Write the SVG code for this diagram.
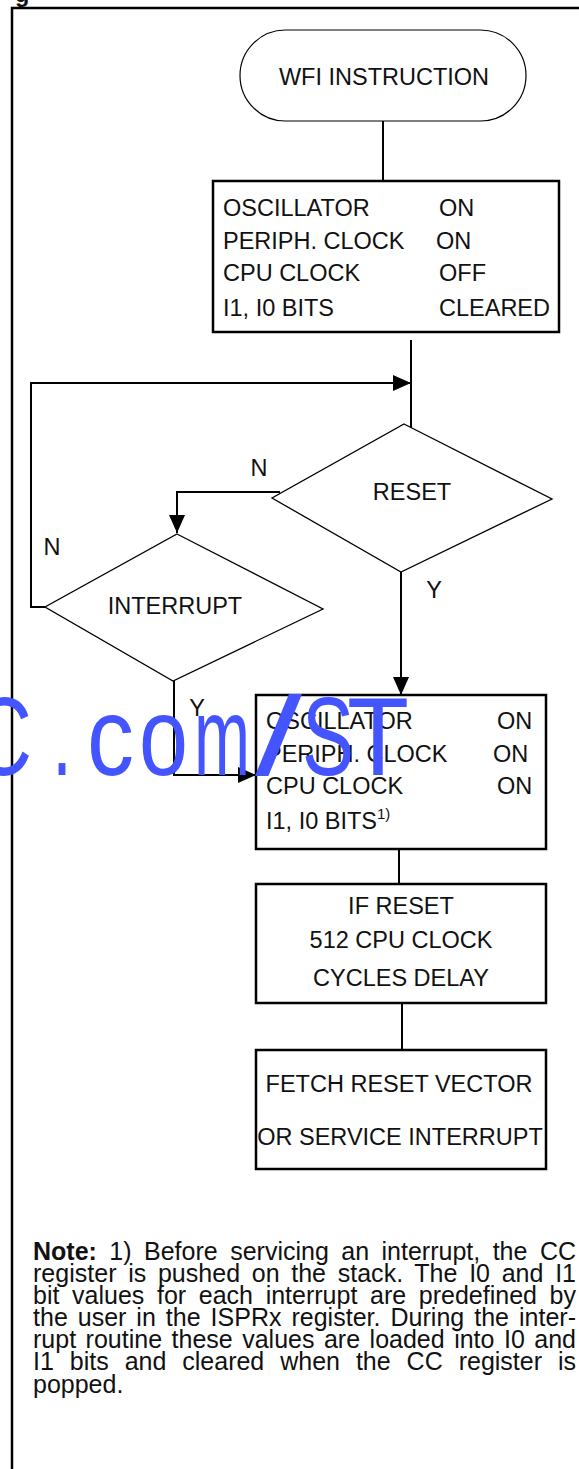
<svg xmlns="http://www.w3.org/2000/svg" width="579" height="1469" viewBox="0 0 579 1469">
<defs>
<style>
.t{font-family:"Liberation Sans",Arial,Helvetica,sans-serif;font-size:23.5px;fill:#111}
.c{text-anchor:middle}
.box{fill:#fff;stroke:#000;stroke-width:2.5}
.dia{fill:#fff;stroke:#000;stroke-width:1.3}
.ln{fill:none;stroke:#000;stroke-width:2}
.note{font-family:"Liberation Sans",Arial,Helvetica,sans-serif;font-size:25px;fill:#111}
.wm{font-family:"Liberation Sans",Arial,sans-serif;font-size:112px;fill:#4455ff}
</style>
<marker id="arr" viewBox="0 0 18 18" markerWidth="18" markerHeight="18" refX="18" refY="9" orient="auto" markerUnits="userSpaceOnUse">
<path d="M0,1 L18,9 L0,17 z" fill="#000"/>
</marker>
</defs>
<rect width="579" height="1469" fill="#fff"/>
<text class="t" x="15" y="2" font-weight="bold">g</text>
<path d="M12,1469 V8 H579" fill="none" stroke="#000" stroke-width="2.5"/>

<g id="connectors">
<path class="ln" d="M383,121 V181"/>
<path class="ln" d="M411,340 V428"/>
<path class="ln" d="M45,607 H31 V383 H411" marker-end="url(#arr)"/>
<path class="ln" d="M280,492 H177 V533" marker-end="url(#arr)"/>
<path class="ln" d="M401,572 V695" marker-end="url(#arr)"/>
<path class="ln" d="M174,681 V775 H256" marker-end="url(#arr)"/>
<path class="ln" d="M399,849 V884"/>
<path class="ln" d="M402,1003 V1050"/>
<text class="t c" x="259" y="476">N</text>
<text class="t c" x="52" y="555">N</text>
<text class="t c" x="434" y="598">Y</text>
<text class="t c" x="197" y="716">Y</text>
</g>

<g id="wfi">
<rect x="240" y="30" width="286" height="91" rx="45.5" fill="#fff" stroke="#000" stroke-width="1.2"/>
<text class="t c" x="384" y="85">WFI INSTRUCTION</text>
</g>

<g id="state1">
<rect class="box" x="213" y="181" width="346" height="151"/>
<text class="t" x="223" y="216">OSCILLATOR</text><text class="t" x="439" y="216">ON</text>
<text class="t" x="223" y="249">PERIPH. CLOCK</text><text class="t" x="436" y="249">ON</text>
<text class="t" x="223" y="281">CPU CLOCK</text><text class="t" x="439" y="281">OFF</text>
<text class="t" x="223" y="316">I1, I0 BITS</text><text class="t" x="439" y="316">CLEARED</text>
</g>

<g id="reset">
<polygon class="dia" points="404,424 552,499 401,572 272,498"/>
<text class="t c" x="412" y="500">RESET</text>
</g>

<g id="interrupt">
<polygon class="dia" points="177,534 323,609 173,681 45,607"/>
<text class="t c" x="175" y="614">INTERRUPT</text>
</g>

<g id="state2">
<rect class="box" x="256" y="695" width="290" height="154"/>
<text class="t" x="266" y="729">OSCILLATOR</text><text class="t" x="497" y="729">ON</text>
<text class="t" x="266" y="762">PERIPH. CLOCK</text><text class="t" x="493" y="762">ON</text>
<text class="t" x="266" y="794">CPU CLOCK</text><text class="t" x="497" y="794">ON</text>
<text class="t" x="266" y="829">I1, I0 BITS<tspan font-size="15" dy="-10">1)</tspan></text>
</g>

<g id="delay">
<rect class="box" x="256" y="884" width="290" height="119"/>
<text class="t c" x="401" y="914">IF RESET</text>
<text class="t c" x="401" y="948">512 CPU CLOCK</text>
<text class="t c" x="401" y="986">CYCLES DELAY</text>
</g>

<g id="fetch">
<rect class="box" x="256" y="1050" width="290" height="119"/>
<text class="t c" x="399" y="1092">FETCH RESET VECTOR</text>
<text class="t c" x="400" y="1145">OR SERVICE INTERRUPT</text>
</g>

<g id="note">
<text class="note" x="33" y="1260" word-spacing="5.5" textLength="543" lengthAdjust="spacing"><tspan font-weight="bold">Note:</tspan> 1) Before servicing an interrupt, the CC</text>
<text class="note" x="33" y="1282" word-spacing="4.7" textLength="543" lengthAdjust="spacing">register is pushed on the stack. The I0 and I1</text>
<text class="note" x="33" y="1304" word-spacing="5.7" textLength="543" lengthAdjust="spacing">bit values for each interrupt are predefined by</text>
<text class="note" x="33" y="1326" word-spacing="2.9" textLength="543" lengthAdjust="spacing">the user in the ISPRx register. During the inter-</text>
<text class="note" x="33" y="1348" word-spacing="2.5" textLength="543" lengthAdjust="spacing">rupt routine these values are loaded into I0 and</text>
<text class="note" x="33" y="1370" word-spacing="9" textLength="543" lengthAdjust="spacing">I1 bits and cleared when the CC register is</text>
<text class="note" x="33" y="1393">popped.</text>
</g>

<g id="watermark">
<text class="wm" x="-28" y="775" textLength="60" lengthAdjust="spacingAndGlyphs">C</text>
<text class="wm" x="52" y="775" textLength="20" lengthAdjust="spacingAndGlyphs">.</text>
<text class="wm" x="87" y="775" textLength="47" lengthAdjust="spacingAndGlyphs">c</text>
<text class="wm" x="139" y="775" textLength="49" lengthAdjust="spacingAndGlyphs">o</text>
<text class="wm" x="194" y="775" textLength="56" lengthAdjust="spacingAndGlyphs">m</text>
<text class="wm" x="255" y="775" textLength="47" lengthAdjust="spacingAndGlyphs">/</text>
<text class="wm" x="302" y="775" textLength="52" lengthAdjust="spacingAndGlyphs">S</text>
<text class="wm" x="347" y="775" textLength="62" lengthAdjust="spacingAndGlyphs">T</text>
</g>
</svg>
